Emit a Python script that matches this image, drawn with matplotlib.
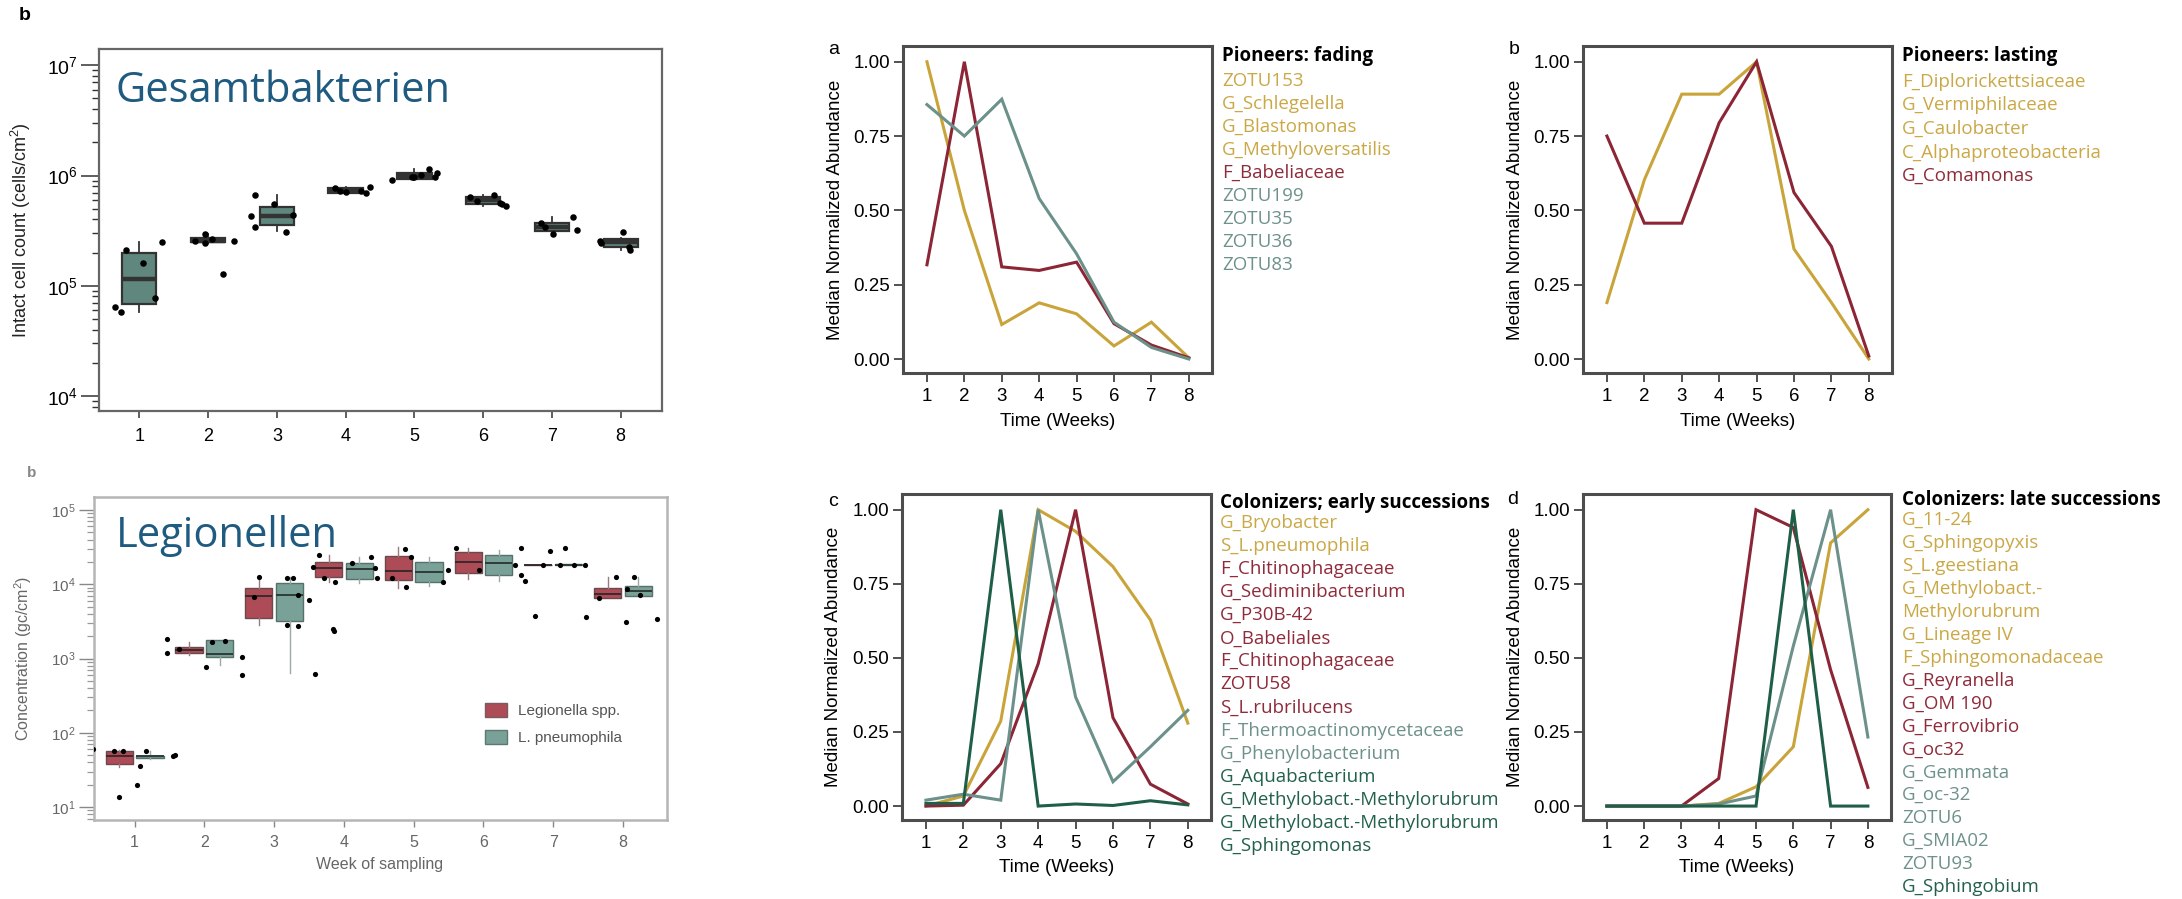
import numpy as np
import matplotlib
matplotlib.use("Agg")
import matplotlib.pyplot as plt
from matplotlib.patches import Patch
from matplotlib.ticker import LogLocator, NullFormatter

W, H = 2182, 899
plt.rcParams['font.family'] = ['Liberation Sans', 'DejaVu Sans']
plt.rcParams['mathtext.fontset'] = 'custom'
plt.rcParams['mathtext.rm'] = 'Liberation Sans'
plt.rcParams['mathtext.it'] = 'Liberation Sans:italic'
plt.rcParams['mathtext.bf'] = 'Liberation Sans:bold'

# ======================= DATA =======================
weeks = [1, 2, 3, 4, 5, 6, 7, 8]
week_labels = ['1', '2', '3', '4', '5', '6', '7', '8']

# --- Gesamtbakterien (intact cell count, cells/cm2) ---
tc_whislo = [5.75e4, 2.43e5, 3.15e5, 6.92e5, 9.06e5, 5.3e5, 3.0e5, 2.1e5]
tc_q1 = [6.8e4, 2.47e5, 3.56e5, 7.0e5, 9.4e5, 5.53e5, 3.16e5, 2.26e5]
tc_med = [1.15e5, 2.57e5, 4.33e5, 7.3e5, 9.9e5, 5.97e5, 3.44e5, 2.47e5]
tc_q3 = [2.0e5, 2.73e5, 5.16e5, 7.67e5, 1.05e6, 6.36e5, 3.74e5, 2.63e5]
tc_whishi = [2.48e5, 2.93e5, 6.6e5, 7.9e5, 1.15e6, 6.6e5, 4.24e5, 2.7e5]
tc_pt_x = [0.64, 0.74, 0.81, 1.05, 1.23, 1.33,
           1.81, 1.95, 1.96, 2.06, 2.22, 2.37,
           2.68, 2.96, 2.62, 2.68, 3.23, 3.14,
           3.84, 3.92, 4.01, 4.22, 4.30, 4.35,
           4.67, 4.96, 5.00, 5.09, 5.21, 5.30, 5.33,
           5.81, 5.91, 6.16, 6.25, 6.33, 6.28,
           6.84, 6.90, 7.01, 7.31, 7.37,
           7.70, 7.71, 8.03, 8.12, 8.13]
tc_pt_y = [6.45e4, 5.75e4, 2.11e5, 1.62e5, 7.8e4, 2.5e5,
           2.57e5, 2.93e5, 2.43e5, 2.66e5, 1.29e5, 2.57e5,
           6.67e5, 5.5e5, 4.27e5, 3.4e5, 4.36e5, 3.1e5,
           7.76e5, 7.3e5, 7.05e5, 7.3e5, 6.92e5, 7.9e5,
           9.06e5, 9.7e5, 9.6e5, 1.01e6, 1.15e6, 9.7e5, 1.06e6,
           6.4e5, 5.9e5, 6.6e5, 5.6e5, 5.3e5, 5.55e5,
           3.69e5, 3.44e5, 2.95e5, 4.22e5, 3.21e5,
           2.55e5, 2.43e5, 3.1e5, 2.24e5, 2.1e5]
tc_ytick_exp = [4, 5, 6, 7]

# --- Legionellen (gc/cm2) ---
lsp_whislo = [35, 1120, 2800, 10800, 8800, 11700, 18000, 6460]
lsp_q1 = [38, 1175, 3475, 12600, 11500, 14000, 18000, 6460]
lsp_med = [48, 1303, 6900, 16400, 15000, 20100, 18200, 7400]
lsp_q3 = [56, 1443, 8800, 20100, 24000, 27500, 18400, 8800]
lsp_whishi = [59, 1683, 12400, 24800, 31400, 30500, 18400, 12400]
lpn_whislo = [45, 812, 630, 10300, 9460, 11200, 18200, 6900]
lpn_q1 = [46, 1038, 3230, 11700, 10800, 13300, 18200, 6900]
lpn_med = [48, 1150, 7100, 15800, 14800, 19500, 18400, 8200]
lpn_q3 = [49, 1775, 10300, 19100, 20100, 24800, 18600, 9460]
lpn_whishi = [57, 1775, 12400, 23100, 23500, 28900, 18600, 12400]
leg_pt_x = [0.41, 0.70, 0.83, 0.78, 1.03, 1.08, 1.17, 1.55, 1.58,
            1.47, 1.47, 1.63, 2.03, 2.11, 2.29, 2.54, 2.54,
            2.78, 2.71, 3.18, 3.27, 3.34, 3.50, 3.18, 3.34, 3.58,
            3.84, 3.86, 3.55, 3.64, 3.72, 3.87, 4.11, 4.39, 4.45, 4.47,
            4.87, 4.89, 4.96, 5.42, 5.49, 4.69,
            5.61, 5.94, 6.45, 6.54, 6.54, 6.60,
            6.74, 6.95, 7.17, 6.85, 7.10, 7.30, 7.45, 7.47,
            7.90, 8.16, 7.65, 8.04, 8.48, 8.25, 8.06]
leg_pt_y = [60, 57, 57, 13.8, 19.8, 36, 57, 48, 50,
            1811, 1200, 1330, 776, 1683, 1740, 1058, 593,
            12400, 6800, 12000, 12000, 7100, 6100, 2800, 2740, 617,
            2500, 2330, 17300, 24800, 12000, 10800, 19100, 23500, 16400, 12000,
            29500, 9290, 23500, 10800, 15600, 12000,
            30500, 15600, 18000, 30500, 13300, 11200,
            3730, 28300, 30500, 18200, 18200, 18200, 18200, 3590,
            12400, 12400, 6460, 3130, 3370, 7170, 8600]
leg_ytick_exp = [1, 2, 3, 4, 5]
leg_series = ['Legionella spp.', 'L. pneumophila']

# --- Median normalized abundance panels ---
abund_ticks = [0.0, 0.25, 0.5, 0.75, 1.0]
abund_labels = ['0.00', '0.25', '0.50', '0.75', '1.00']

a_gold = [1.0, 0.50, 0.116, 0.189, 0.152, 0.044, 0.124, 0.004]
a_red = [0.317, 1.0, 0.31, 0.298, 0.326, 0.119, 0.047, 0.004]
a_teal = [0.856, 0.75, 0.874, 0.54, 0.354, 0.124, 0.039, 0.0]

b_gold = [0.19, 0.603, 0.891, 0.891, 1.0, 0.37, 0.19, 0.0]
b_red = [0.75, 0.457, 0.457, 0.795, 1.0, 0.56, 0.379, 0.01]

c_gold = [0.0, 0.034, 0.287, 1.0, 0.927, 0.808, 0.628, 0.28]
c_red = [0.0, 0.003, 0.143, 0.48, 1.0, 0.298, 0.074, 0.007]
c_teal = [0.02, 0.04, 0.02, 1.0, 0.368, 0.082, 0.2, 0.323]
c_green = [0.009, 0.009, 1.0, 0.0, 0.007, 0.002, 0.018, 0.004]

d_gold = [0.0, 0.0, 0.0, 0.009, 0.065, 0.2, 0.888, 1.0]
d_red = [0.0, 0.0, 0.0, 0.093, 1.0, 0.94, 0.46, 0.063]
d_teal = [0.0, 0.0, 0.0, 0.007, 0.034, 0.54, 1.0, 0.233]
d_green = [0.0, 0.0, 0.0, 0.0, 0.0, 1.0, 0.0, 0.0]

a_title = 'Pioneers: fading'
a_entries = ['ZOTU153', 'G_Schlegelella', 'G_Blastomonas', 'G_Methyloversatilis',
             'F_Babeliaceae', 'ZOTU199', 'ZOTU35', 'ZOTU36', 'ZOTU83']
a_groups = ['gold'] * 4 + ['red'] + ['teal'] * 4

b_title = 'Pioneers: lasting'
b_entries = ['F_Diplorickettsiaceae', 'G_Vermiphilaceae', 'G_Caulobacter',
             'C_Alphaproteobacteria', 'G_Comamonas']
b_groups = ['gold'] * 4 + ['red']

c_title = 'Colonizers; early successions'
c_entries = ['G_Bryobacter', 'S_L.pneumophila', 'F_Chitinophagaceae', 'G_Sediminibacterium',
             'G_P30B-42', 'O_Babeliales', 'F_Chitinophagaceae', 'ZOTU58', 'S_L.rubrilucens',
             'F_Thermoactinomycetaceae', 'G_Phenylobacterium', 'G_Aquabacterium',
             'G_Methylobact.-Methylorubrum', 'G_Methylobact.-Methylorubrum', 'G_Sphingomonas']
c_groups = ['gold'] * 2 + ['red'] * 7 + ['teal'] * 2 + ['green'] * 4

d_title = 'Colonizers: late successions'
d_entries = ['G_11-24', 'G_Sphingopyxis', 'S_L.geestiana', 'G_Methylobact.-', 'Methylorubrum',
             'G_Lineage IV', 'F_Sphingomonadaceae', 'G_Reyranella', 'G_OM 190', 'G_Ferrovibrio',
             'G_oc32', 'G_Gemmata', 'G_oc-32', 'ZOTU6', 'G_SMIA02', 'ZOTU93', 'G_Sphingobium']
d_groups = ['gold'] * 7 + ['red'] * 4 + ['teal'] * 5 + ['green']

# ======================= STYLE =======================
LINE_COL = {'gold': '#c9a43a', 'red': '#8c2535', 'teal': '#6b918a', 'green': '#1f5e47'}
TEXT_COL = {'gold': '#caa846', 'red': '#8f2b3a', 'teal': '#6e928b', 'green': '#23614b'}
TITLE_COL = '#1f5b80'

fig = plt.figure(figsize=(W / 100, H / 100), dpi=100)
fig.patch.set_facecolor('white')


def px_axes(l, t, r, b):
    return fig.add_axes([l / W, 1 - b / H, (r - l) / W, (b - t) / H])


def px_text(x, y, s, **kw):
    return fig.text(x / W, 1 - y / H, s, **kw)


def box_stats(lo, q1, med, q3, hi):
    return [dict(whislo=a, q1=b, med=c, q3=d, whishi=e) for a, b, c, d, e in zip(lo, q1, med, q3, hi)]


# ---------------- Gesamtbakterien ----------------
ax1 = px_axes(99, 49, 662, 411)
ax1.set_yscale('log')
ax1.bxp(box_stats(tc_whislo, tc_q1, tc_med, tc_q3, tc_whishi), positions=weeks, widths=0.5,
        patch_artist=True, showfliers=False, showcaps=False, manage_ticks=False,
        boxprops=dict(facecolor='#5f877e', edgecolor='#333333', linewidth=1.6),
        medianprops=dict(color='#333333', linewidth=3.2, solid_capstyle='butt'),
        whiskerprops=dict(color='#333333', linewidth=1.3))
ax1.scatter(tc_pt_x, tc_pt_y, s=22, color='black', zorder=4, linewidths=0)
ax1.set_ylim(10 ** 3.864, 10 ** 7.148)
ax1.set_xlim(0.414, 8.6)
ax1.set_yticks([10.0 ** e for e in tc_ytick_exp])
ax1.set_yticklabels([r'$10^{%d}$' % e for e in tc_ytick_exp])
ax1.yaxis.set_minor_locator(LogLocator(base=10, subs=np.arange(2, 10)))
ax1.yaxis.set_minor_formatter(NullFormatter())
ax1.set_xticks(weeks)
ax1.set_xticklabels(week_labels)
for s in ax1.spines.values():
    s.set_color('#666666')
    s.set_linewidth(1.6)
ax1.tick_params(axis='y', which='major', length=13, width=1.1, color='#333333', labelsize=14, pad=2)
ax1.tick_params(axis='y', which='minor', length=5, width=1.0, color='#333333')
ax1.tick_params(axis='x', length=5, width=1.1, color='#333333', labelsize=13, pad=7)
px_text(21, 230, r'Intact cell count (cells/cm$^2$)', rotation=90, ha='center', va='center',
        fontsize=13, color='#222222')
px_text(116, 102, 'Gesamtbakterien', family='Open Sans', fontsize=30, color=TITLE_COL,
        ha='left', va='baseline')
px_text(25, 16, 'b', fontsize=14, fontweight='bold', ha='center', va='center')

# ---------------- Legionellen ----------------
RED_F, TEAL_F = '#ad4b57', '#7aa198'
ax2 = px_axes(94, 497, 667, 820)
ax2.set_yscale('log')
pos_r = [w - 0.22 for w in weeks]
pos_t = [w + 0.22 for w in weeks]
ax2.bxp(box_stats(lsp_whislo, lsp_q1, lsp_med, lsp_q3, lsp_whishi), positions=pos_r, widths=0.39,
        patch_artist=True, showfliers=False, showcaps=False, manage_ticks=False,
        boxprops=dict(facecolor=RED_F, edgecolor='#6b4a4e', linewidth=1.0),
        medianprops=dict(color='#3a2a2c', linewidth=1.4),
        whiskerprops=dict(color='#9a7c80', linewidth=1.0))
ax2.bxp(box_stats(lpn_whislo, lpn_q1, lpn_med, lpn_q3, lpn_whishi), positions=pos_t, widths=0.39,
        patch_artist=True, showfliers=False, showcaps=False, manage_ticks=False,
        boxprops=dict(facecolor=TEAL_F, edgecolor='#56706a', linewidth=1.0),
        medianprops=dict(color='#2f3d3a', linewidth=1.4),
        whiskerprops=dict(color='#9aaaa6', linewidth=1.0))
ax2.scatter(leg_pt_x, leg_pt_y, s=14, color='black', zorder=4, linewidths=0)
ax2.set_ylim(10 ** 0.825, 10 ** 5.175)
ax2.set_xlim(0.418, 8.63)
ax2.set_yticks([10.0 ** e for e in leg_ytick_exp])
ax2.set_yticklabels([r'$10^{%d}$' % e for e in leg_ytick_exp])
ax2.yaxis.set_minor_locator(LogLocator(base=10, subs=np.arange(2, 10)))
ax2.yaxis.set_minor_formatter(NullFormatter())
ax2.set_xticks(weeks)
ax2.set_xticklabels(week_labels)
for s in ax2.spines.values():
    s.set_color('#b5b5b5')
    s.set_linewidth(1.8)
ax2.tick_params(axis='y', which='major', length=11, width=1.0, color='#888888', labelsize=11,
                labelcolor='#666666', pad=2)
ax2.tick_params(axis='y', which='minor', length=5, width=0.9, color='#999999')
ax2.tick_params(axis='x', length=5, width=1.0, color='#888888', labelsize=11.5, labelcolor='#666666', pad=6)
ax2.legend(handles=[Patch(facecolor=RED_F, edgecolor='#7a5a5e', label=leg_series[0]),
                    Patch(facecolor=TEAL_F, edgecolor='#5e7873', label=leg_series[1])],
           loc='center left', bbox_to_anchor=((471 - 94) / 573, 1 - (724 - 497) / 323),
           frameon=False, fontsize=11, labelcolor='#555555', handlelength=1.45,
           handleheight=1.05, labelspacing=0.75, handletextpad=0.7)
px_text(23, 658, r'Concentration (gc/cm$^2$)', rotation=90, ha='center', va='center',
        fontsize=11.5, color='#666666')
px_text(380, 865, 'Week of sampling', ha='center', va='center', fontsize=11.5, color='#666666')
px_text(116, 547, 'Legionellen', family='Open Sans', fontsize=30, color=TITLE_COL,
        ha='left', va='baseline')
px_text(32, 473, 'b', fontsize=11, fontweight='bold', ha='center', va='center', color='#888888')


# ---------------- Abundance line panels ----------------
def line_panel(box, series, letter, letter_xy, ylab_x, xlab_y, leg_x, leg_title_y, leg_y0, leg_dy,
               title, entries, groups):
    l, t, r, b = box
    ax = px_axes(l, t, r, b)
    for key, vals in series:
        ax.plot(weeks, vals, color=LINE_COL[key], linewidth=2.2, solid_joinstyle='miter')
    ax.set_xlim(0.36, 8.62)
    ax.set_ylim(-0.047, 1.053)
    ax.set_xticks(weeks)
    ax.set_xticklabels(week_labels)
    ax.set_yticks(abund_ticks)
    ax.set_yticklabels(abund_labels)
    for s in ax.spines.values():
        s.set_color('#4d4d4d')
        s.set_linewidth(2.2)
    ax.tick_params(axis='both', length=6.5, width=1.1, color='#222222', labelsize=13.5)
    ax.tick_params(axis='y', pad=3)
    ax.tick_params(axis='x', pad=4)
    px_text(ylab_x, (t + b) / 2, 'Median Normalized Abundance', rotation=90, ha='center',
            va='center', fontsize=13.5)
    px_text((l + r) / 2, xlab_y, 'Time (Weeks)', ha='center', va='center', fontsize=13.5)
    px_text(letter_xy[0], letter_xy[1], letter, ha='center', va='center', fontsize=14)
    px_text(leg_x, leg_title_y, title, family='Open Sans', fontweight='bold', fontsize=13.5,
            ha='left', va='center', color='black')
    for i, (name, g) in enumerate(zip(entries, groups)):
        px_text(leg_x, leg_y0 + i * leg_dy, name, family='Open Sans', fontsize=13.5,
                ha='left', va='center', color=TEXT_COL[g])
    return ax


line_panel((903, 46, 1212, 373), [('gold', a_gold), ('red', a_red), ('teal', a_teal)],
           'a', (834, 50), 836, 421, 1222, 56, 81, 23.0, a_title, a_entries, a_groups)
line_panel((1583, 46, 1892, 373), [('gold', b_gold), ('red', b_red)],
           'b', (1514, 49), 1516, 421, 1902, 56, 82, 23.5, b_title, b_entries, b_groups)
line_panel((902, 494, 1211, 820), [('gold', c_gold), ('red', c_red), ('teal', c_teal), ('green', c_green)],
           'c', (833, 502), 833, 868, 1220, 503, 523, 23.07, c_title, c_entries, c_groups)
line_panel((1583, 494, 1891, 820), [('gold', d_gold), ('red', d_red), ('teal', d_teal), ('green', d_green)],
           'd', (1513, 500), 1515, 868, 1902, 500, 520, 22.94, d_title, d_entries, d_groups)

fig.savefig('out.png', dpi=100, facecolor='white')
